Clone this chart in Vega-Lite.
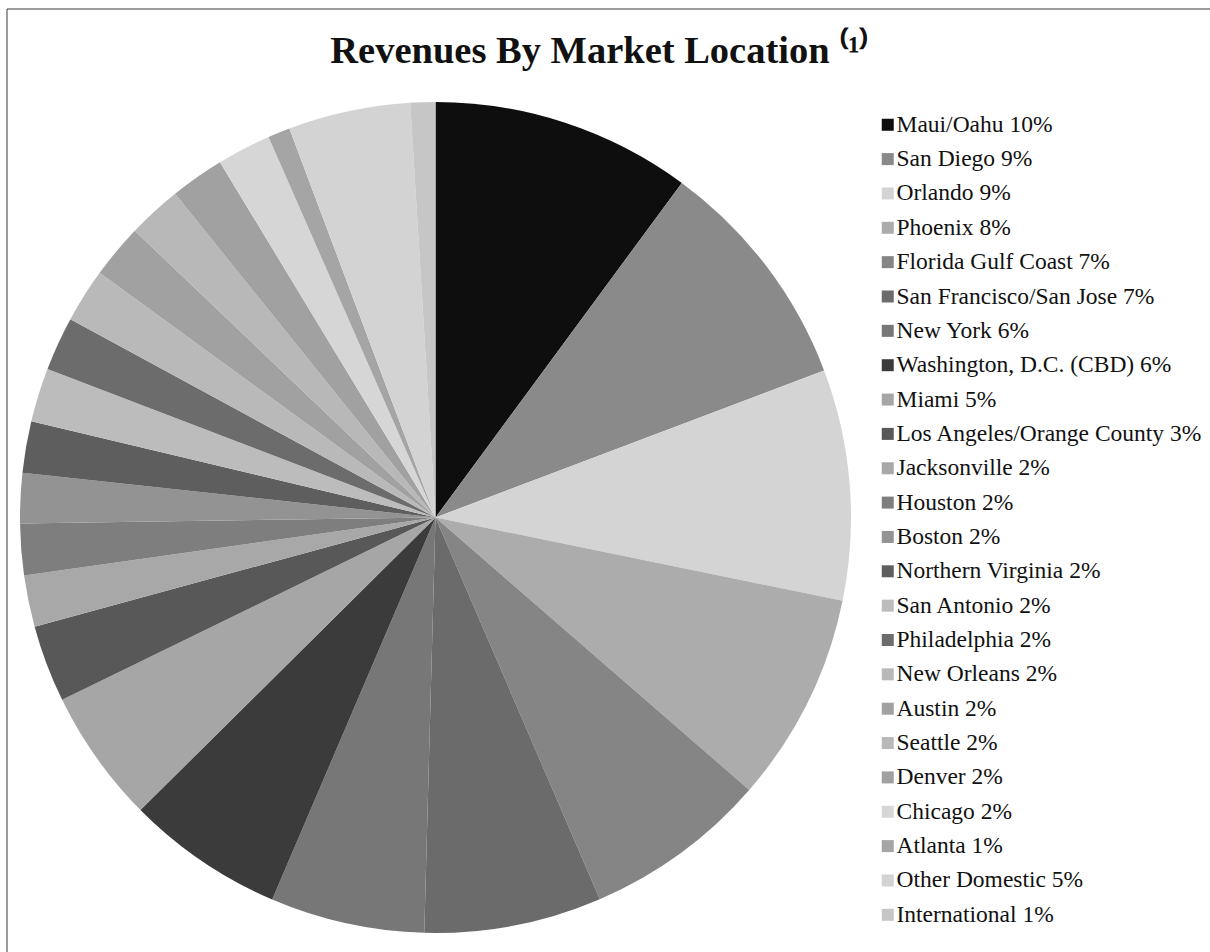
{
  "$schema": "https://vega.github.io/schema/vega-lite/v6.json",
  "width": 1205,
  "height": 945,
  "autosize": {"type": "none"},
  "padding": {"left": 7, "top": 9, "right": -2, "bottom": -2},
  "background": "white",
  "config": {
    "view": {"stroke": null},
    "font": "Liberation Serif"
  },
  "title": {
    "text": "Revenues By Market Location ⁽¹⁾",
    "font": "Liberation Serif",
    "fontSize": 38.5,
    "fontWeight": "bold",
    "color": "#111111",
    "anchor": "middle",
    "frame": "group",
    "baseline": "alphabetic",
    "offset": -93,
    "dx": -10
  },
  "layer": [
    {
      "data": {"values": [{"frame": "border"}]},
      "mark": {"type": "rect", "fill": null, "fillOpacity": 0, "stroke": "#3a3a3a", "strokeWidth": 1},
      "encoding": {}
    },
    {
      "data": {
        "values": [
          {"label": "Maui/Oahu 10%", "share": 10.1, "idx": 1},
          {"label": "San Diego 9%", "share": 9.14, "idx": 2},
          {"label": "Orlando 9%", "share": 8.97, "idx": 3},
          {"label": "Phoenix 8%", "share": 8.17, "idx": 4},
          {"label": "Florida Gulf Coast 7%", "share": 7.15, "idx": 5},
          {"label": "San Francisco/San Jose 7%", "share": 6.9, "idx": 6},
          {"label": "New York 6%", "share": 6.0, "idx": 7},
          {"label": "Washington, D.C. (CBD) 6%", "share": 6.14, "idx": 8},
          {"label": "Miami 5%", "share": 5.2, "idx": 9},
          {"label": "Los Angeles/Orange County 3%", "share": 3.0, "idx": 10},
          {"label": "Jacksonville 2%", "share": 2.0, "idx": 11},
          {"label": "Houston 2%", "share": 2.0, "idx": 12},
          {"label": "Boston 2%", "share": 1.95, "idx": 13},
          {"label": "Northern Virginia 2%", "share": 2.0, "idx": 14},
          {"label": "San Antonio 2%", "share": 2.1, "idx": 15},
          {"label": "Philadelphia 2%", "share": 2.1, "idx": 16},
          {"label": "New Orleans 2%", "share": 2.1, "idx": 17},
          {"label": "Austin 2%", "share": 2.1, "idx": 18},
          {"label": "Seattle 2%", "share": 2.1, "idx": 19},
          {"label": "Denver 2%", "share": 2.1, "idx": 20},
          {"label": "Chicago 2%", "share": 2.1, "idx": 21},
          {"label": "Atlanta 1%", "share": 0.86, "idx": 22},
          {"label": "Other Domestic 5%", "share": 4.75, "idx": 23},
          {"label": "International 1%", "share": 0.97, "idx": 24}
        ]
      },
      "mark": {"type": "arc", "outerRadius": 415.5, "x": 428.5, "y": 508.5},
      "encoding": {
        "theta": {"field": "share", "type": "quantitative", "stack": true},
        "order": {"field": "idx", "type": "quantitative", "sort": "ascending"},
        "color": {
          "field": "label",
          "type": "nominal",
          "sort": null,
          "scale": {
            "domain": ["Maui/Oahu 10%", "San Diego 9%", "Orlando 9%", "Phoenix 8%", "Florida Gulf Coast 7%", "San Francisco/San Jose 7%", "New York 6%", "Washington, D.C. (CBD) 6%", "Miami 5%", "Los Angeles/Orange County 3%", "Jacksonville 2%", "Houston 2%", "Boston 2%", "Northern Virginia 2%", "San Antonio 2%", "Philadelphia 2%", "New Orleans 2%", "Austin 2%", "Seattle 2%", "Denver 2%", "Chicago 2%", "Atlanta 1%", "Other Domestic 5%", "International 1%"],
            "range": ["#0e0e0e", "#8a8a8a", "#d4d4d4", "#acacac", "#858585", "#6b6b6b", "#777777", "#3b3b3b", "#a6a6a6", "#585858", "#a8a8a8", "#7e7e7e", "#939393", "#5e5e5e", "#bcbcbc", "#6c6c6c", "#b9b9b9", "#a1a1a1", "#b8b8b8", "#a1a1a1", "#d6d6d6", "#a5a5a5", "#d3d3d3", "#c6c6c6"]
          },
          "legend": {
            "title": null,
            "orient": "none",
            "legendX": 869,
            "legendY": 104,
            "direction": "vertical",
            "columns": 1,
            "symbolType": "square",
            "symbolSize": 144,
            "symbolStrokeWidth": 0,
            "symbolOpacity": 1,
            "labelFont": "Liberation Serif",
            "labelFontSize": 23.5,
            "labelColor": "#111111",
            "labelOffset": -3,
            "labelLimit": 0,
            "rowPadding": 9.35,
            "padding": 0
          }
        }
      }
    }
  ]
}
